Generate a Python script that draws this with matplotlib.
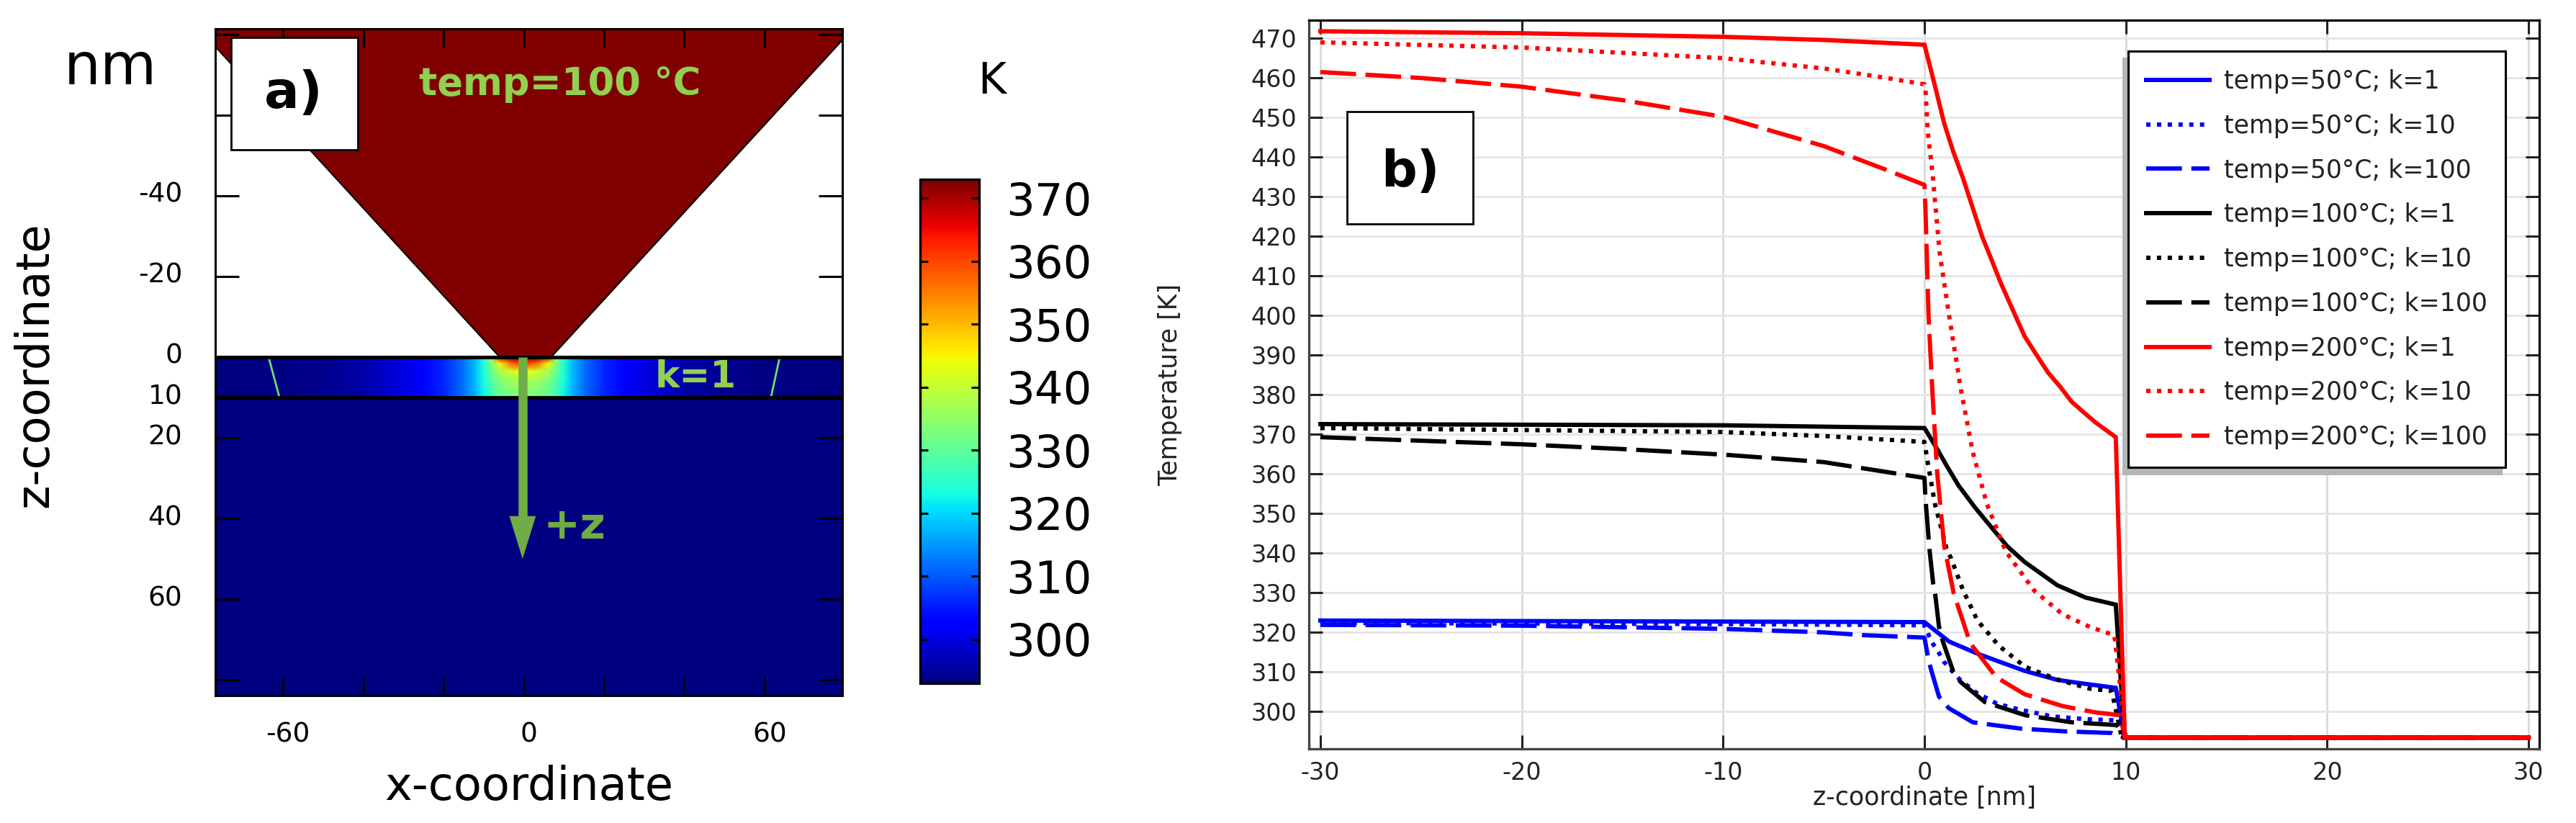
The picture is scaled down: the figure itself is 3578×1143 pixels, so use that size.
import matplotlib

matplotlib.use("Agg")
import matplotlib.pyplot as plt
import numpy as np
from matplotlib.patches import Polygon, Rectangle
from matplotlib.transforms import ScaledTranslation

W, H, DPI = 3578, 1143, 100

plt.rcParams["axes.unicode_minus"] = False

# panel a: tip outline and temperature in the 10 nm layer
tip_x = [-76.9, -6.0, 6.8, 79.4, 79.4, -76.9]
tip_z = [-77.0, 0.0, 0.0, -78.6, -81.4, -81.4]
layer_x = [0, 3, 6, 8, 10, 12, 15, 20, 25, 30, 40, 50, 60, 80]
layer_z = [0, 1.5, 3.5, 6, 10]
layer_temp = [
    [373, 372, 368, 338, 325, 318, 312, 306, 303, 300, 296, 294, 293.4, 293.1],
    [362, 358, 345, 333, 324, 318, 312, 306, 303, 300, 296, 294, 293.4, 293.1],
    [343, 342, 337, 331, 324, 318, 312, 306, 303, 300, 296, 294, 293.4, 293.1],
    [337, 336, 333, 329, 323, 318, 312, 306, 303, 300, 296, 294, 293.4, 293.1],
    [333, 332, 330, 327, 322, 317, 312, 306, 303, 300, 296, 294, 293.4, 293.1],
]
contour_left_x = [-63.6, -60.9]
contour_right_x = [63.8, 61.6]
contour_z = [0, 10]

# panel b: temperature profiles
z_red_1 = [-30, -20, -10, -5, 0, 0.5, 0.98, 1.45, 1.92, 2.39, 2.86, 3.33, 3.8, 4.38, 4.97, 5.56, 6.14, 6.73, 7.3, 7.9, 8.5, 9.5, 9.94, 30]
t_red_1 = [471.7, 471.2, 470.3, 469.5, 468.3, 458.3, 448.4, 441, 434.5, 427.2, 419.9, 414, 408, 401.4, 394.7, 390, 385.5, 382, 378.2, 375.5, 372.9, 369.2, 293.3, 293.3]
z_red_10 = [-30, -20, -10, -5, -2, 0, 0.05, 0.16, 0.4, 0.75, 1.22, 1.8, 2.39, 3.1, 4.03, 5.44, 6.85, 8.25, 9.43, 9.66, 10, 30]
t_red_10 = [468.9, 467.6, 464.9, 462.3, 460, 458.3, 457, 446.4, 435.8, 415.9, 400, 381.5, 365.6, 352.3, 340.4, 330.5, 324.5, 321.2, 319.2, 309, 293.3, 293.3]
z_red_100 = [-30, -25, -20, -15, -10, -5, -2, 0, 0.05, 0.2, 0.4, 0.63, 0.98, 1.45, 2.27, 3.56, 4.97, 6.85, 8.5, 9.66, 10, 30]
t_red_100 = [461.4, 459.9, 457.7, 454.3, 450.1, 442.7, 436.9, 432.9, 426.5, 400, 380, 360.3, 341.7, 329.8, 317.2, 308.6, 304.3, 301.3, 299.7, 299, 293.3, 293.3]

z_black_1 = [-30, -10, 0, 0.63, 1.1, 1.69, 2.5, 3.33, 4.1, 4.97, 6.6, 8.0, 9.5, 9.94, 30]
t_black_1 = [372.5, 372.2, 371.5, 366.2, 362, 357, 351.5, 346.4, 341.7, 337.7, 331.8, 328.7, 326.9, 293.3, 293.3]
z_black_10 = [-30, -10, -5, 0, 0.16, 0.52, 1.1, 1.32, 1.92, 2.63, 3.7, 5, 6.6, 8.2, 9.3, 9.8, 30]
t_black_10 = [371.5, 370.5, 369.5, 368, 362.9, 352.3, 341, 338.6, 330.5, 322.9, 316.5, 311.2, 308, 305.7, 305.1, 293.3, 293.3]
z_black_100 = [-30, -20, -15, -10, -5, 0, 0.05, 0.25, 0.43, 0.54, 0.72, 0.9, 1.43, 1.79, 3, 5, 7.3, 9.55, 9.9, 30]
t_black_100 = [369.2, 367.4, 366.2, 364.8, 362.9, 358.9, 353.6, 340.8, 332.3, 329.2, 321.4, 317.8, 310, 307.4, 302.3, 299, 297.2, 296.5, 293.3, 293.3]

z_blue_1 = [-30, 0, 1.22, 2.6, 3.56, 4.97, 6.6, 8.0, 9.5, 9.94, 30]
t_blue_1 = [322.9, 322.5, 317.6, 314.6, 312.8, 310.2, 307.9, 306.9, 305.9, 293.3, 293.3]
z_blue_10 = [-30, -10, 0, 0.14, 0.38, 0.7, 0.96, 1.75, 2.57, 3.6, 4.65, 6.33, 8, 9.66, 9.95, 30]
t_blue_10 = [322.3, 322, 321.7, 320, 317.3, 314.9, 312.5, 308, 304.7, 301.9, 300.5, 298.7, 298, 297.7, 293.3, 293.3]
z_blue_100 = [-30, -20, -10, -5, -3, 0, 0.14, 0.3, 0.72, 1.2, 2.4, 4.8, 7, 9.3, 9.9, 30]
t_blue_100 = [321.8, 321.6, 320.8, 319.9, 319.2, 318.6, 314.6, 311, 303.7, 300.8, 297.2, 295.6, 294.9, 294.5, 293.3, 293.3]

DOTTED = (0, (1, 1.5))
DASHED = (0, (8.3, 2.2))
series = [
    ("temp=50°C; k=1", z_blue_1, t_blue_1, "#0000ff", "-"),
    ("temp=50°C; k=10", z_blue_10, t_blue_10, "#0000ff", DOTTED),
    ("temp=50°C; k=100", z_blue_100, t_blue_100, "#0000ff", DASHED),
    ("temp=100°C; k=1", z_black_1, t_black_1, "#000000", "-"),
    ("temp=100°C; k=10", z_black_10, t_black_10, "#000000", DOTTED),
    ("temp=100°C; k=100", z_black_100, t_black_100, "#000000", DASHED),
    ("temp=200°C; k=1", z_red_1, t_red_1, "#ff0000", "-"),
    ("temp=200°C; k=10", z_red_10, t_red_10, "#ff0000", DOTTED),
    ("temp=200°C; k=100", z_red_100, t_red_100, "#ff0000", DASHED),
]


def box(left, top, right, bottom):
    # pixel box of the reference -> figure fractions
    return [left / W, 1 - bottom / H, (right - left) / W, (bottom - top) / H]


def fx(x):
    return x / W


def fy(y):
    return 1 - y / H


fig = plt.figure(figsize=(W / DPI, H / DPI), dpi=DPI, facecolor="white")

# ---- panel a ----
ax = fig.add_axes(box(299, 40, 1170, 966))
cmap = plt.get_cmap("jet")

half_x = np.array(layer_x, dtype=float)
half_t = np.array(layer_temp, dtype=float)
mesh_x = np.concatenate([-half_x[:0:-1], half_x])
mesh_t = np.hstack([half_t[:, :0:-1], half_t])
mesh = ax.pcolormesh(mesh_x, layer_z, mesh_t, shading="gouraud", cmap=cmap, vmin=293, vmax=373, zorder=1)

ax.axhspan(10, 90, color=cmap(0.0), lw=0, zorder=1)
ax.add_patch(Polygon(np.column_stack([tip_x, tip_z]), closed=True, facecolor=cmap(1.0), edgecolor="black", lw=1.5, zorder=1))
ax.plot(contour_left_x, contour_z, color="#70e070", lw=2, zorder=2)
ax.plot(contour_right_x, contour_z, color="#70e070", lw=2, zorder=2)
ax.axhline(0, color="black", lw=3.6, zorder=3)
ax.axhline(10, color="black", lw=3.6, zorder=3)

ax.set_xlim(-76.9, 79.4)
ax.set_ylim(83.9, -81.4)
ax.set_xticks([-60, -40, -20, 0, 20, 40, 60])
ax.set_xticklabels(["-60", "", "", "0", "", "", "60"])
ax.set_yticks([-80, -60, -40, -20, 0, 10, 20, 40, 60, 80])
ax.set_yticklabels(["", "", "-40", "-20", "0", "10", "20", "40", "60", ""])
ax.tick_params(axis="x", direction="in", top=True, length=19, width=2.2, labelsize=27, pad=26)
ax.tick_params(axis="y", direction="in", right=True, length=24, width=2.2, labelsize=27, pad=33)
for lab in ax.get_xticklabels():
    lab.set_transform(lab.get_transform() + ScaledTranslation(7 / DPI, 0, fig.dpi_scale_trans))
for lab in ax.get_yticklabels():
    lab.set_transform(lab.get_transform() + ScaledTranslation(0, 5 / DPI, fig.dpi_scale_trans))
for sp in ax.spines.values():
    sp.set_linewidth(2.2)

ax.set_xlabel("x-coordinate", fontsize=46, va="center")
ax.xaxis.set_label_coords(fx(735), fy(1093), transform=fig.transFigure)
ax.set_ylabel("z-coordinate", fontsize=46, va="center")
ax.yaxis.set_label_coords(fx(48), fy(507), transform=fig.transFigure)

# green arrow
ax.plot([-0.3, -0.3], [0, 40], color="#70ad47", lw=9, solid_capstyle="butt", zorder=4)
ax.add_patch(Polygon([[-3.6, 39.4], [3.0, 39.4], [-0.3, 50.0]], closed=True, facecolor="#70ad47", edgecolor="none", zorder=4))

fig.text(fx(153), fy(95), "nm", fontsize=58, ha="center", va="center")
fig.text(fx(778), fy(117), "temp=100 °C", fontsize=38, fontweight="bold", color="#92d050", ha="center", va="center")
fig.text(fx(966), fy(524), "k=1", fontsize=37, fontweight="bold", color="#92d050", ha="center", va="center", zorder=5)
fig.text(fx(798), fy(732), "+z", fontsize=44, fontweight="bold", color="#70ad47", ha="center", va="center", zorder=5)
fig.text(fx(1378), fy(113), "K", fontsize=43, ha="center", va="center")

fig.add_artist(Rectangle((fx(321), fy(208)), 176 / W, 156 / H, transform=fig.transFigure, facecolor="white", edgecolor="black", lw=2, zorder=4))
fig.text(fx(408), fy(131), "a)", fontsize=52, fontweight="bold", ha="center", va="center", zorder=5)

# colour bar
cax = fig.add_axes(box(1278, 249, 1360, 949))
cb = fig.colorbar(mesh, cax=cax, ticks=[300, 310, 320, 330, 340, 350, 360, 370])
cb.outline.set_linewidth(2.4)
cax.tick_params(direction="in", left=True, right=True, length=8, width=2.2, labelsize=45, pad=27)

# ---- panel b ----
bx = fig.add_axes(box(1818, 28, 3527, 1040))
lines = []
for label, z, t, color, style in series:
    line, = bx.plot(z, t, color=color, ls=style, lw=4.3, label=label, dash_capstyle="butt", solid_joinstyle="miter")
    lines.append(line)

bx.set_xlim(-30.57, 30.53)
bx.set_ylim(290.5, 474.5)
bx.set_xticks(np.arange(-30, 31, 10))
bx.set_yticks(np.arange(300, 471, 10))
bx.grid(True, axis="x", color="#dcdcdc", lw=2.2)
bx.grid(True, axis="y", color="#e6e6e6", lw=2.2)
bx.set_axisbelow(True)
bx.tick_params(direction="in", top=True, right=True, length=14, width=2.2, labelsize=24, pad=12, color="#222222", labelcolor="#222222")
for name, sp in bx.spines.items():
    sp.set_linewidth(2.4)
    sp.set_color("#444444" if name in ("left", "bottom") else "#111111")

bx.set_xlabel("z-coordinate [nm]", fontsize=25, va="center", color="#222222")
bx.xaxis.set_label_coords(fx(2673), fy(1108), transform=fig.transFigure)
bx.set_ylabel("Temperature [K]", fontsize=25, va="center", color="#222222")
bx.yaxis.set_label_coords(fx(1625), fy(534), transform=fig.transFigure)

fig.add_artist(Rectangle((fx(1871), fy(311)), 175 / W, 156 / H, transform=fig.transFigure, facecolor="white", edgecolor="black", lw=2, zorder=4))
fig.text(fx(1959), fy(240), "b)", fontsize=50, fontweight="bold", ha="center", va="center", zorder=5)

# legend with its drop shadow
bx.add_patch(Rectangle((fx(2948), fy(660)), 528 / W, 580 / H, transform=fig.transFigure, facecolor="#b4b4b4", edgecolor="none", zorder=5))
leg = bx.legend(
    handles=lines,
    loc="upper left",
    bbox_to_anchor=(fx(2956), fy(71)),
    bbox_transform=fig.transFigure,
    fontsize=25,
    fancybox=False,
    framealpha=1,
    edgecolor="black",
    borderaxespad=0,
    borderpad=0.72,
    labelspacing=0.80,
    handlelength=2.53,
    handletextpad=0.57,
    labelcolor="#222222",
)
leg.get_frame().set_linewidth(2.2)
leg.set_zorder(6)

fig.savefig("out.png", dpi=DPI, facecolor="white")
